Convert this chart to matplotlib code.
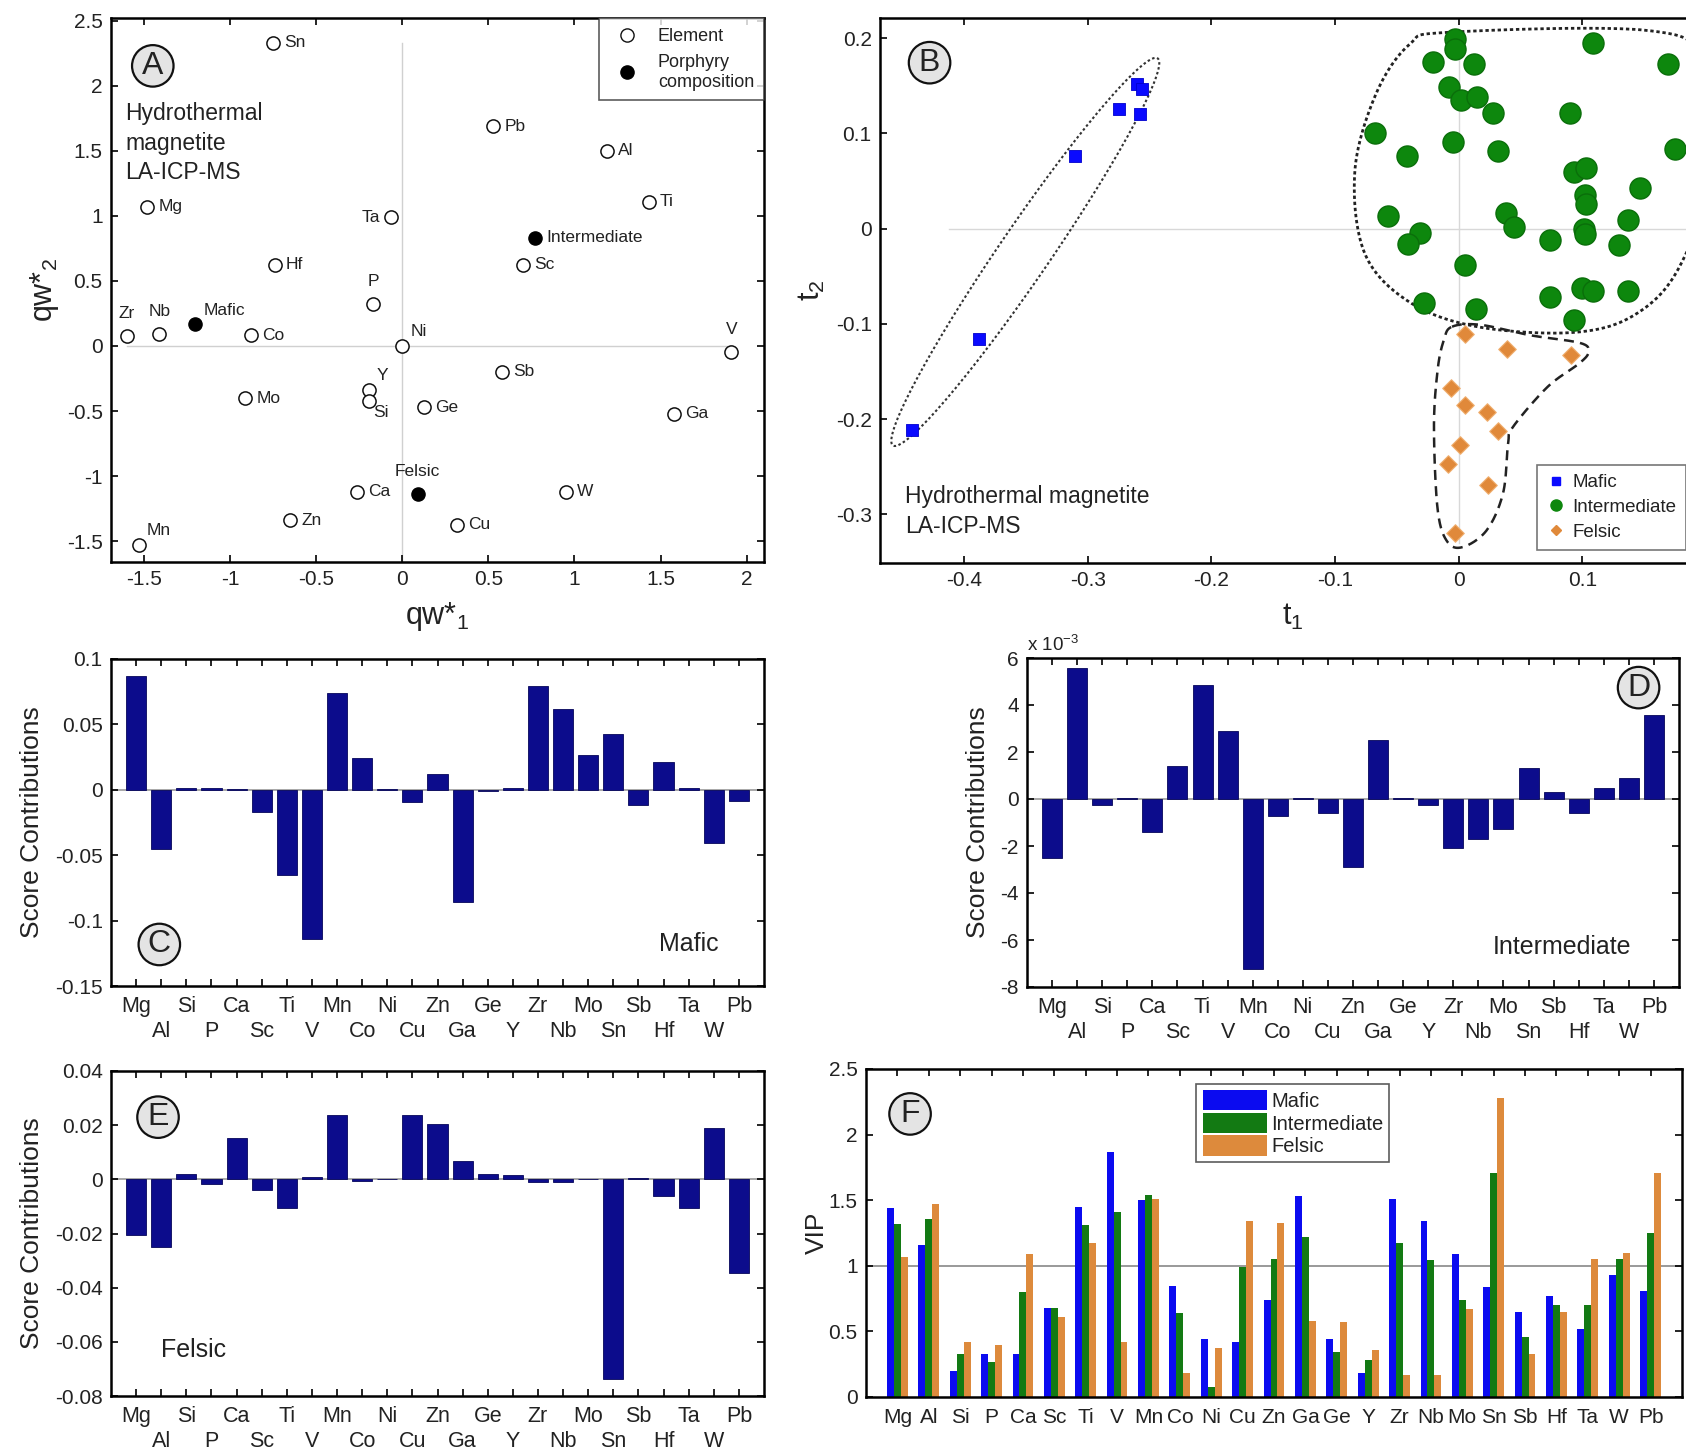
import numpy as np
import matplotlib
matplotlib.use("Agg")
import matplotlib.pyplot as plt
from matplotlib.lines import Line2D
from matplotlib.patches import Patch

plt.rcParams['font.family'] = ['Liberation Sans', 'DejaVu Sans']
plt.rcParams['mathtext.default'] = 'regular'
TXT = '#222222'

# ---------------- data ----------------
elements = ['Mg', 'Al', 'Si', 'P', 'Ca', 'Sc', 'Ti', 'V', 'Mn', 'Co', 'Ni', 'Cu', 'Zn',
            'Ga', 'Ge', 'Y', 'Zr', 'Nb', 'Mo', 'Sn', 'Sb', 'Hf', 'Ta', 'W', 'Pb']

# Panel A: loadings qw*1, qw*2
a_names = ['Sn', 'Pb', 'Al', 'Ti', 'Mg', 'Ta', 'Hf', 'Sc', 'P', 'Zr', 'Nb', 'Co', 'Ni', 'V',
           'Sb', 'Y', 'Si', 'Mo', 'Ge', 'Ga', 'Ca', 'W', 'Zn', 'Cu', 'Mn']
a_x = [-0.75, 0.53, 1.19, 1.43, -1.48, -0.065, -0.74, 0.70, -0.17, -1.60, -1.41, -0.88, 0.00, 1.91,
       0.58, -0.195, -0.195, -0.91, 0.125, 1.58, -0.26, 0.95, -0.65, 0.32, -1.53]
a_y = [2.33, 1.69, 1.50, 1.11, 1.07, 0.99, 0.625, 0.625, 0.32, 0.075, 0.09, 0.084, 0.0, -0.05,
       -0.20, -0.34, -0.42, -0.40, -0.47, -0.52, -1.12, -1.12, -1.34, -1.375, -1.53]
a_pos = ['r', 'r', 'r', 'r', 'r', 'l', 'r', 'r', 'a', 'a', 'a', 'r', 'ar', 'a',
         'r', 'ar', 'br', 'r', 'r', 'r', 'r', 'r', 'r', 'r', 'ar']
comp_names = ['Mafic', 'Intermediate', 'Felsic']
comp_x = [-1.20, 0.77, 0.09]
comp_y = [0.165, 0.83, -1.14]
comp_pos = ['ar', 'r', 'a']

# Panel B: scores t1, t2
mafic_t1 = [-0.260, -0.256, -0.275, -0.258, -0.310, -0.388, -0.442]
mafic_t2 = [0.152, 0.146, 0.125, 0.120, 0.076, -0.116, -0.211]
inter_t1 = [-0.003, -0.003, -0.021, 0.012, 0.109, 0.169, -0.008, 0.002, 0.015, 0.028, 0.090,
            -0.068, -0.005, -0.042, 0.032, 0.175, 0.093, 0.103, 0.147, 0.102, 0.103, -0.057,
            0.038, 0.045, 0.137, -0.031, -0.041, 0.074, 0.101, 0.102, 0.130, 0.005, 0.100,
            0.109, 0.137, 0.074, -0.028, 0.014, 0.093]
inter_t2 = [0.199, 0.188, 0.175, 0.173, 0.195, 0.173, 0.149, 0.135, 0.138, 0.121, 0.121,
            0.100, 0.091, 0.076, 0.081, 0.083, 0.059, 0.064, 0.043, 0.035, 0.026, 0.013,
            0.016, 0.002, 0.009, -0.005, -0.016, -0.012, 0.000, -0.006, -0.017, -0.038, -0.062,
            -0.066, -0.066, -0.072, -0.078, -0.084, -0.096]
felsic_t1 = [0.005, 0.039, 0.091, -0.006, 0.005, 0.023, 0.032, 0.001, -0.009, 0.024, -0.003]
felsic_t2 = [-0.111, -0.126, -0.133, -0.167, -0.185, -0.192, -0.212, -0.227, -0.247, -0.269, -0.320]

# Panels C, D, E: score contributions
contrib_mafic = [0.087, -0.045, 0.001, 0.001, 0.0005, -0.017, -0.0655, -0.114, 0.074, 0.024,
                 0.0003, -0.0096, 0.0124, -0.086, -0.001, 0.001, 0.079, 0.0614, 0.0264, 0.0429,
                 -0.012, 0.0216, 0.001, -0.041, -0.0084]
contrib_inter_e3 = [-2.5, 5.56, -0.26, 0.05, -1.40, 1.41, 4.87, 2.88, -7.24, -0.71, 0.03, -0.61,
                    -2.9, 2.49, 0.05, -0.26, -2.1, -1.7, -1.28, 1.31, 0.31, -0.61, 0.46, 0.88, 3.59]
contrib_felsic = [-0.0205, -0.025, 0.0018, -0.0018, 0.0152, -0.004, -0.0106, 0.001, 0.0238,
                  -0.0007, 0.0002, 0.0238, 0.0205, 0.0066, 0.0018, 0.0015, -0.001, -0.001, 0.0002,
                  -0.0738, 0.0004, -0.0063, -0.0107, 0.0189, -0.0345]

# Panel F: VIP
vip_mafic = [1.44, 1.16, 0.20, 0.33, 0.33, 0.68, 1.45, 1.87, 1.50, 0.845, 0.44, 0.42, 0.74,
             1.53, 0.44, 0.18, 1.51, 1.34, 1.09, 0.84, 0.65, 0.77, 0.52, 0.93, 0.81]
vip_inter = [1.32, 1.36, 0.33, 0.27, 0.80, 0.68, 1.31, 1.41, 1.54, 0.64, 0.08, 0.99, 1.05,
             1.22, 0.34, 0.28, 1.17, 1.045, 0.74, 1.71, 0.46, 0.70, 0.70, 1.05, 1.25]
vip_felsic = [1.07, 1.47, 0.42, 0.40, 1.09, 0.61, 1.17, 0.42, 1.51, 0.18, 0.37, 1.34, 1.33,
              0.58, 0.57, 0.36, 0.165, 0.165, 0.67, 2.28, 0.33, 0.65, 1.05, 1.10, 1.71]

# ---------------- figure ----------------
W, H = 1686, 1453
fig = plt.figure(figsize=(W / 100, H / 100), dpi=100)


def ax_px(l, t, r, b):
    return fig.add_axes([l / W, 1 - b / H, (r - l) / W, (b - t) / H])


def style(ax, fs=15):
    ax.tick_params(direction='in', top=True, right=True, length=5, width=1.2,
                   labelsize=fs, colors='k', labelcolor=TXT, pad=6)
    for s in ax.spines.values():
        s.set_linewidth(1.8)


def circ_label(ax, letter, x, y):
    ax.text(x, y, letter, transform=ax.transAxes, fontsize=23, ha='center', va='center',
            color=TXT, zorder=10,
            bbox=dict(boxstyle='circle,pad=0.18', fc='#e4e4e4', ec='#111111', lw=1.6))


def smooth_closed(pts, n=24):
    P = np.asarray(pts, float)
    m = len(P)
    out = []
    t = np.linspace(0, 1, n, endpoint=False)[:, None]
    for i in range(m):
        p0, p1, p2, p3 = P[(i - 1) % m], P[i], P[(i + 1) % m], P[(i + 2) % m]
        out.append(0.5 * (2 * p1 + (-p0 + p2) * t + (2 * p0 - 5 * p1 + 4 * p2 - p3) * t ** 2
                          + (-p0 + 3 * p1 - 3 * p2 + p3) * t ** 3))
    out = np.vstack(out)
    return np.vstack([out, out[:1]])


# ---------- Panel A ----------
axA = ax_px(111, 18, 764, 562)
style(axA)
axA.set_xlim(-1.69, 2.1)
axA.set_ylim(-1.66, 2.52)
axA.plot([0, 0], [axA.get_ylim()[0], max(a_y)], color='#d0d0d0', lw=1, zorder=0)
axA.plot([min(a_x), max(a_x)], [0, 0], color='#d0d0d0', lw=1, zorder=0)
axA.scatter(a_x, a_y, s=90, facecolors='white', edgecolors='#111111', linewidths=1.1, zorder=3)
axA.scatter(comp_x, comp_y, s=90, facecolors='black', edgecolors='black', zorder=3)

offs = {'r': (8, 0, 'left', 'center'), 'l': (-8, 0, 'right', 'center'),
        'a': (0, 11, 'center', 'bottom'), 'ar': (6, 5, 'left', 'bottom'),
        'br': (3, -3, 'left', 'top')}
for n, x, y, p in zip(a_names + comp_names, a_x + comp_x, a_y + comp_y, a_pos + comp_pos):
    dx, dy, ha, va = offs[p]
    axA.annotate(n, (x, y), xytext=(dx, dy), textcoords='offset points', ha=ha, va=va,
                 fontsize=12.5, color=TXT)
axA.set_xticks([-1.5, -1, -0.5, 0, 0.5, 1, 1.5, 2])
axA.set_xticklabels(['-1.5', '-1', '-0.5', '0', '0.5', '1', '1.5', '2'])
axA.set_yticks([-1.5, -1, -0.5, 0, 0.5, 1, 1.5, 2, 2.5])
axA.set_yticklabels(['-1.5', '-1', '-0.5', '0', '0.5', '1', '1.5', '2', '2.5'])
axA.set_xlabel('qw*$_{1}$', fontsize=22, color=TXT, labelpad=8)
axA.set_ylabel('qw*$_{2}$', fontsize=22, color=TXT, labelpad=4)
circ_label(axA, 'A', 0.064, 0.912)
axA.text(0.022, 0.845, 'Hydrothermal\nmagnetite\nLA-ICP-MS', transform=axA.transAxes,
         fontsize=16.5, color=TXT, va='top', ha='left', linespacing=1.35)
hA = [Line2D([], [], ls='', marker='o', ms=9.5, mfc='white', mec='#111111'),
      Line2D([], [], ls='', marker='o', ms=9.5, mfc='black', mec='black')]
legA = axA.legend(hA, ['Element', 'Porphyry\ncomposition'], loc='upper right',
                  borderaxespad=0, fontsize=13, frameon=True, fancybox=False,
                  handletextpad=0.7, labelspacing=0.5, borderpad=0.55)
legA.get_frame().set_edgecolor('#333333')
legA.get_frame().set_linewidth(1.2)
for t in legA.get_texts():
    t.set_color(TXT)

# ---------- Panel B ----------
axB = ax_px(880, 18, 1706, 563)
style(axB)
axB.set_xlim(-0.468, 0.2)
axB.set_ylim(-0.351, 0.221)
axB.plot([min(mafic_t1) + 0.03, 0.2], [0, 0], color='#d8d8d8', lw=1, zorder=0)
axB.plot([0, 0], [min(felsic_t2) - 0.01, max(inter_t2) + 0.01], color='#d8d8d8', lw=1, zorder=0)

# enclosure: mafic ellipse
c = np.array([-0.3505, -0.0245])
u = np.array([0.1065, 0.2035])
v = np.array([0.0200, -0.0092])
tt = np.linspace(0, 2 * np.pi, 200)
ell = c[None, :] + np.cos(tt)[:, None] * u[None, :] + np.sin(tt)[:, None] * v[None, :]
axB.plot(ell[:, 0], ell[:, 1], ls=(0, (1.2, 1.2)), color='#333333', lw=1.5, zorder=1)
# enclosure: intermediate
g_ctrl = [(-0.008, 0.206), (0.152, 0.208), (0.198, 0.176), (0.207, 0.069), (0.179, -0.039),
          (0.143, -0.090), (0.093, -0.109), (0.015, -0.103), (-0.040, -0.077), (-0.076, -0.026),
          (-0.084, 0.060), (-0.067, 0.141), (-0.040, 0.193)]
g = smooth_closed(g_ctrl)
axB.plot(g[:, 0], g[:, 1], ls=(0, (1.2, 1.0)), color='#222222', lw=2.0, zorder=1)
# enclosure: felsic
f_ctrl = [(-0.0054, -0.103), (0.0175, -0.101), (0.058, -0.112), (0.098, -0.120), (0.105, -0.129),
          (0.098, -0.141), (0.072, -0.166), (0.044, -0.208), (0.040, -0.225), (0.036, -0.277),
          (0.023, -0.316), (0.004, -0.334), (-0.009, -0.329), (-0.017, -0.295), (-0.020, -0.208),
          (-0.017, -0.148), (-0.012, -0.117)]
f = smooth_closed(f_ctrl)
axB.plot(f[:, 0], f[:, 1], ls=(0, (4, 2.5)), color='#222222', lw=1.8, zorder=1)

axB.scatter(mafic_t1, mafic_t2, marker='s', s=85, c='#0a0aff', edgecolors='#0000cc',
            linewidths=0.6, zorder=3)
axB.scatter(inter_t1, inter_t2, marker='o', s=230, c='#0d870d', edgecolors='#0a6e0a',
            linewidths=1, zorder=3)
axB.scatter(felsic_t1, felsic_t2, marker='D', s=80, c='#e0893a', edgecolors='#f0b070',
            linewidths=0.8, zorder=3)
axB.set_xticks([-0.4, -0.3, -0.2, -0.1, 0, 0.1])
axB.set_xticklabels(['-0.4', '-0.3', '-0.2', '-0.1', '0', '0.1'])
axB.set_yticks([-0.3, -0.2, -0.1, 0, 0.1, 0.2])
axB.set_yticklabels(['-0.3', '-0.2', '-0.1', '0', '0.1', '0.2'])
axB.set_xlabel('t$_{1}$', fontsize=22, color=TXT, labelpad=8)
axB.set_ylabel('t$_{2}$', fontsize=22, color=TXT, labelpad=6)
circ_label(axB, 'B', 0.06, 0.918)
axB.text(0.03, 0.045, 'Hydrothermal magnetite\nLA-ICP-MS', transform=axB.transAxes,
         fontsize=16.5, color=TXT, va='bottom', ha='left', linespacing=1.4)
hB = [Line2D([], [], ls='', marker='s', ms=6, mfc='#0a0aff', mec='#0a0aff'),
      Line2D([], [], ls='', marker='o', ms=8, mfc='#0d870d', mec='#0d870d'),
      Line2D([], [], ls='', marker='D', ms=5, mfc='#e0893a', mec='#e0893a')]
legB = axB.legend(hB, ['Mafic', 'Intermediate', 'Felsic'], loc='lower right',
                  bbox_to_anchor=(1.0, 1 - 550 / H), bbox_transform=fig.transFigure,
                  borderaxespad=0, fontsize=13.5, fancybox=False, handletextpad=0.4,
                  labelspacing=0.4, borderpad=0.5, handlelength=1.0)
legB.get_frame().set_edgecolor('#555555')
legB.get_frame().set_linewidth(1.2)
for t in legB.get_texts():
    t.set_color(TXT)

# ---------- contribution panels ----------
xpos = np.arange(1, len(elements) + 1)
BAR = '#0c0c8c'


def contrib(ax, vals, ylim, yt, ytl, ypad=8):
    style(ax)
    ax.bar(xpos, vals, width=0.8, color=BAR, edgecolor='#06065a', linewidth=0.6, zorder=2)
    ax.axhline(0, color='#999999', lw=1.2, zorder=1)
    ax.set_xlim(0, len(elements) + 1)
    ax.set_ylim(*ylim)
    # two-row element labels: first row on major ticks, second row on minor ticks
    ax.set_xticks(xpos[0::2])
    ax.set_xticklabels(elements[0::2])
    ax.set_xticks(xpos[1::2], minor=True)
    ax.set_xticklabels(elements[1::2], minor=True)
    ax.tick_params(axis='x', which='major', pad=7, labelsize=15.5)
    ax.tick_params(axis='x', which='minor', direction='in', top=True, bottom=True,
                   length=5, width=1.2, pad=25, labelsize=15.5, labelcolor=TXT)
    ax.set_yticks(yt)
    ax.set_yticklabels(ytl)
    ax.set_ylabel('Score Contributions', fontsize=19, color=TXT, labelpad=ypad)


axC = ax_px(111, 659, 764, 986)
contrib(axC, contrib_mafic, (-0.15, 0.1), [-0.15, -0.1, -0.05, 0, 0.05, 0.1],
        ['-0.15', '-0.1', '-0.05', '0', '0.05', '0.1'])
circ_label(axC, 'C', 0.074, 0.127)
axC.text(0.885, 0.127, 'Mafic', transform=axC.transAxes, fontsize=18, color=TXT,
         ha='center', va='center')

axD = ax_px(1027, 658, 1679, 987)
contrib(axD, contrib_inter_e3, (-8, 6), [-8, -6, -4, -2, 0, 2, 4, 6],
        ['-8', '-6', '-4', '-2', '0', '2', '4', '6'], ypad=7)
axD.text(0.0, 1.01, 'x 10$^{-3}$', transform=axD.transAxes, fontsize=13.5, color=TXT,
         ha='left', va='bottom')
circ_label(axD, 'D', 0.938, 0.91)
axD.text(0.82, 0.122, 'Intermediate', transform=axD.transAxes, fontsize=18, color=TXT,
         ha='center', va='center')

axE = ax_px(111, 1071, 764, 1396)
contrib(axE, contrib_felsic, (-0.08, 0.04), [-0.08, -0.06, -0.04, -0.02, 0, 0.02, 0.04],
        ['-0.08', '-0.06', '-0.04', '-0.02', '0', '0.02', '0.04'])
circ_label(axE, 'E', 0.072, 0.858)
axE.text(0.127, 0.142, 'Felsic', transform=axE.transAxes, fontsize=18, color=TXT,
         ha='center', va='center')

# ---------- Panel F ----------
axF = ax_px(866, 1069, 1682, 1397)
style(axF)
bw = 0.22
cols = ['#0b0bf0', '#137a13', '#dd8a3c']
for k, (vals, col) in enumerate(zip([vip_mafic, vip_inter, vip_felsic], cols)):
    axF.bar(xpos + (k - 1) * bw, vals, width=bw, color=col, edgecolor='none', zorder=2)
axF.axhline(1, color='#999999', lw=1.4, zorder=1)
axF.set_xlim(0, len(elements) + 1)
axF.set_ylim(0, 2.5)
axF.set_xticks(xpos)
axF.set_xticklabels(elements, fontsize=15)
axF.tick_params(axis='x', pad=8)
axF.set_yticks([0, 0.5, 1, 1.5, 2, 2.5])
axF.set_yticklabels(['0', '0.5', '1', '1.5', '2', '2.5'])
axF.set_ylabel('VIP', fontsize=19, color=TXT, labelpad=0)
circ_label(axF, 'F', 0.054, 0.863)
hF = [Patch(fc=c_, ec='none') for c_ in cols]
legF = axF.legend(hF, ['Mafic', 'Intermediate', 'Felsic'], loc='upper left',
                  bbox_to_anchor=(0.405, 0.955), borderaxespad=0, fontsize=14.5,
                  fancybox=False, handlelength=3.2, handleheight=1.2, handletextpad=0.2,
                  labelspacing=0.08, borderpad=0.3)
legF.get_frame().set_edgecolor('#333333')
legF.get_frame().set_linewidth(1.2)
for t in legF.get_texts():
    t.set_color(TXT)

fig.savefig('out.png', dpi=100)
